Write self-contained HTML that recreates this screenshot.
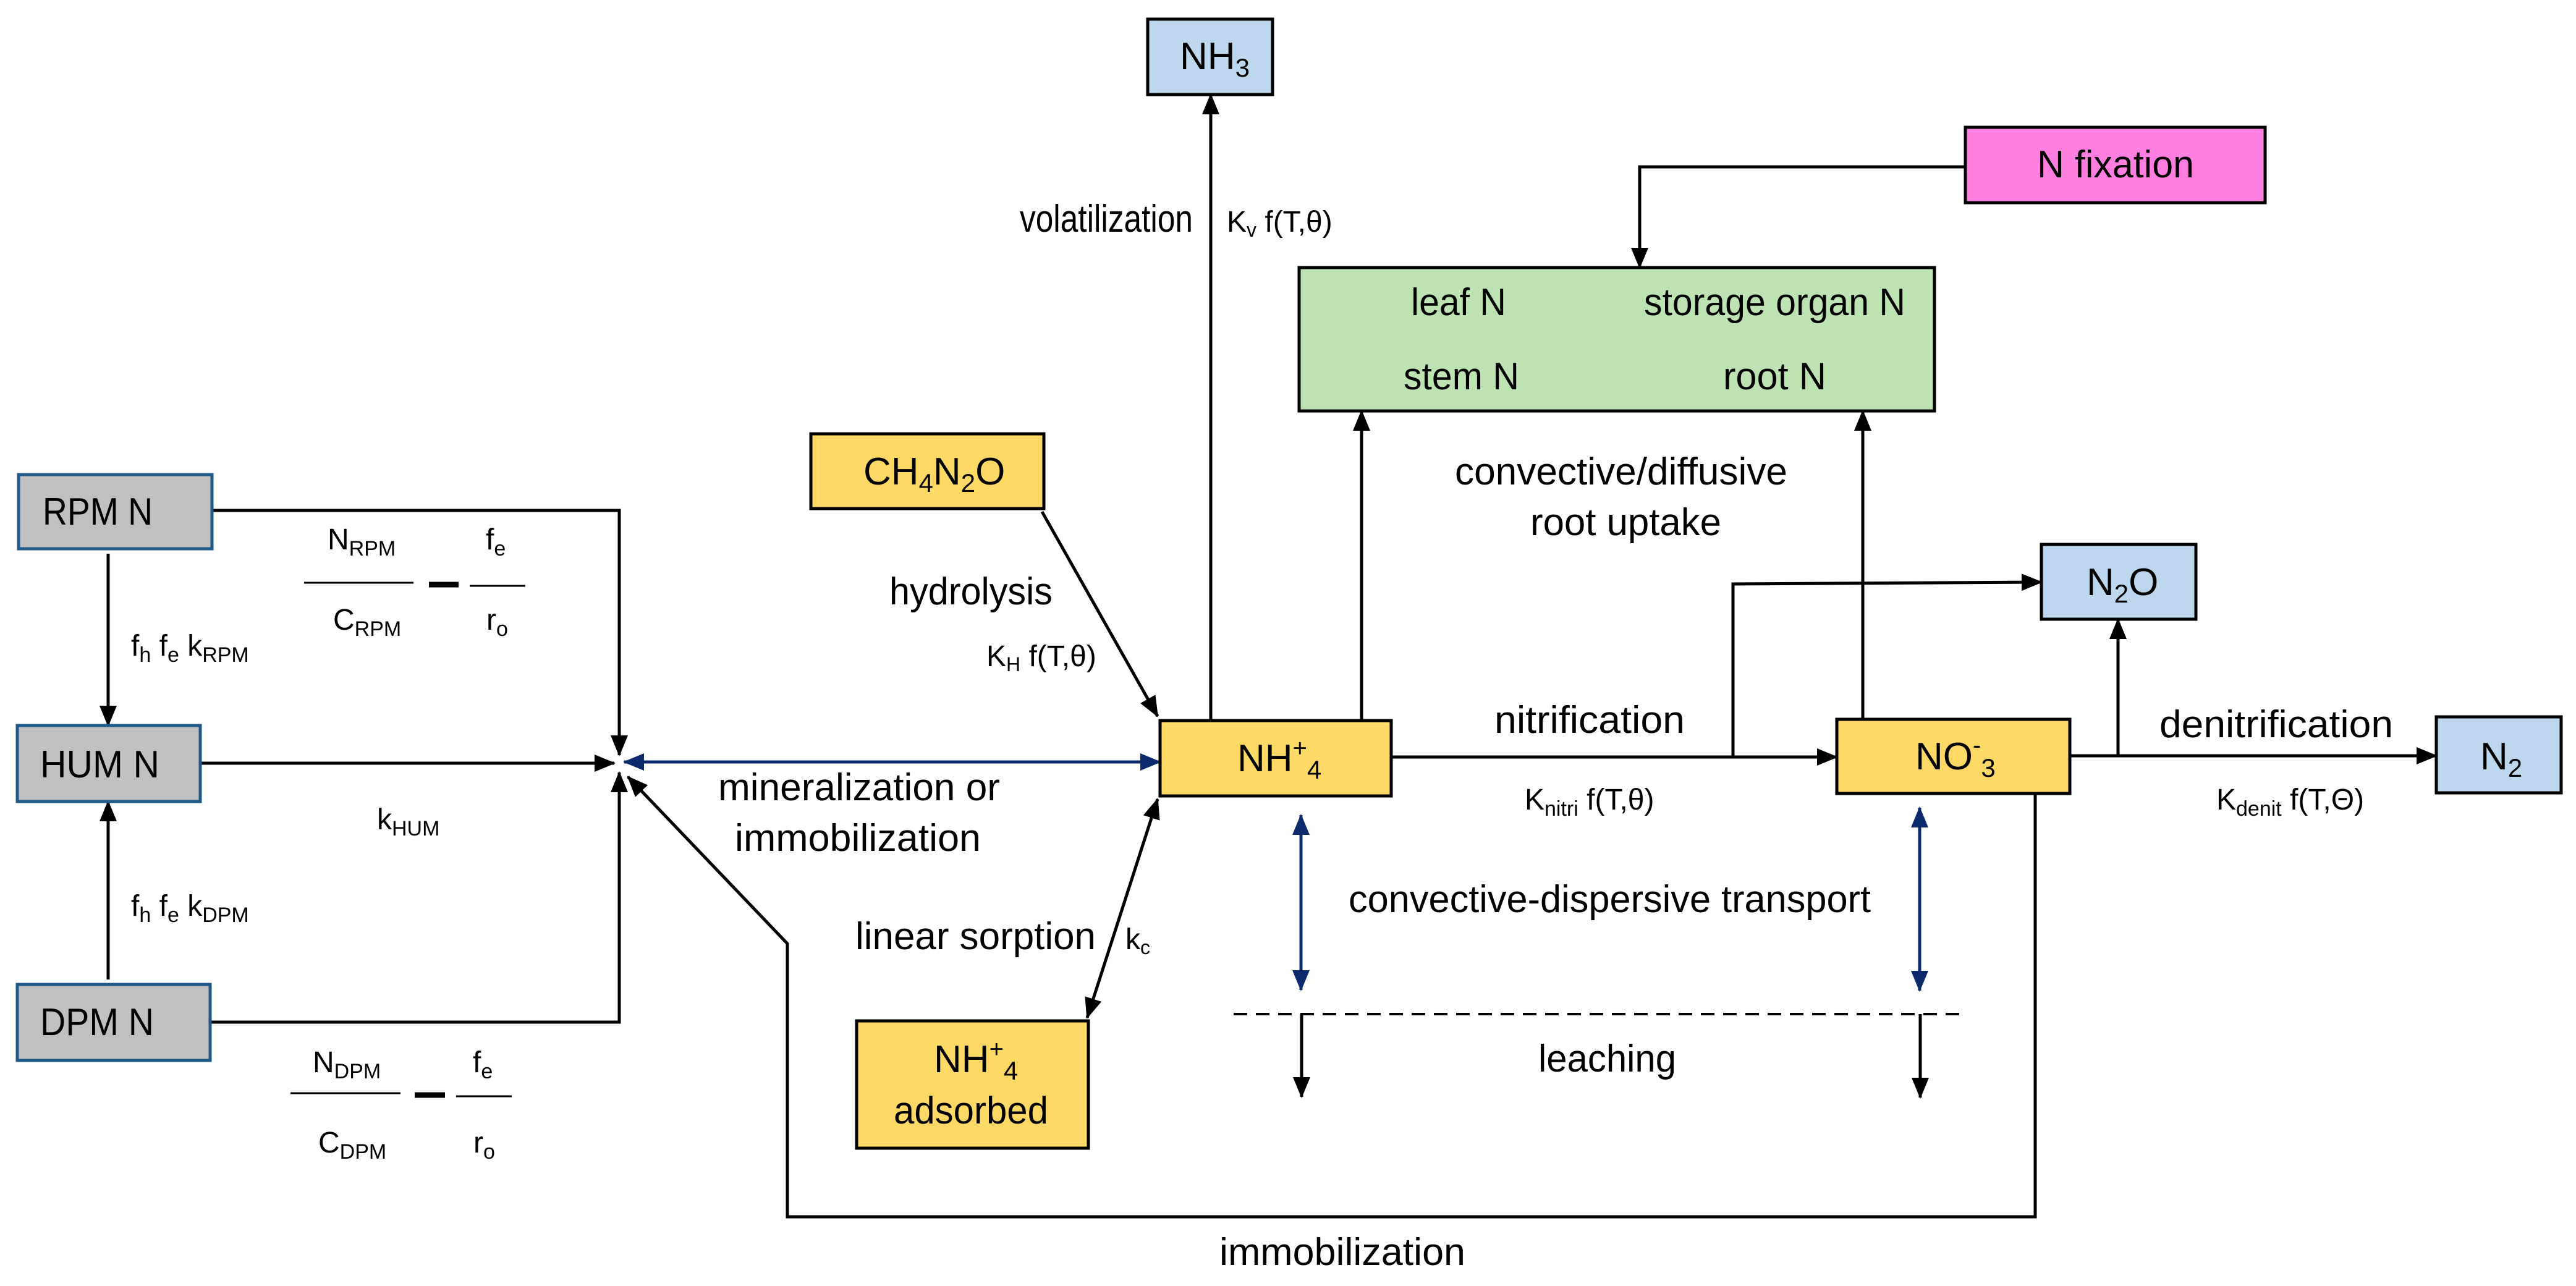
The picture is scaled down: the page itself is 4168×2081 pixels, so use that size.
<!DOCTYPE html>
<html><head><meta charset="utf-8"><style>html,body{margin:0;padding:0;background:#fff}svg{display:block}text{font-family:"Liberation Sans",sans-serif;fill:#000}</style></head>
<body>
<svg width="4168" height="2081" viewBox="0 0 4168 2081" xmlns="http://www.w3.org/2000/svg">
<defs>
<marker id="a" markerUnits="userSpaceOnUse" markerWidth="34" markerHeight="28" refX="32" refY="14" orient="auto-start-reverse"><path d="M0,0 L34,14 L0,28 Z" fill="#000"/></marker>
<marker id="b" markerUnits="userSpaceOnUse" markerWidth="34" markerHeight="28" refX="32" refY="14" orient="auto-start-reverse"><path d="M0,0 L34,14 L0,28 Z" fill="#0b2a6b"/></marker>
</defs>
<g stroke="#000" stroke-width="5" fill="none">
<!-- left -->
<polyline points="343,826 1002,826 1002,1222" marker-end="url(#a)"/>
<polyline points="340,1654 1002,1654 1002,1250" marker-end="url(#a)"/>
<line x1="324" y1="1235" x2="994" y2="1235" marker-end="url(#a)"/>
<line x1="175" y1="896" x2="175" y2="1174" marker-end="url(#a)"/>
<line x1="175" y1="1585" x2="175" y2="1297" marker-end="url(#a)"/>
<!-- immobilization -->
<polyline points="3293,1284 3293,1969 1274,1969 1274,1527 1016,1257" marker-end="url(#a)"/>
<!-- hydrolysis -->
<line x1="1686" y1="828" x2="1873" y2="1159" marker-end="url(#a)"/>
<!-- sorption -->
<line x1="1759" y1="1647" x2="1873" y2="1293" marker-start="url(#a)" marker-end="url(#a)"/>
<!-- volatilization -->
<line x1="1959" y1="1166" x2="1959" y2="153" marker-end="url(#a)"/>
<line x1="2203" y1="1166" x2="2203" y2="665" marker-end="url(#a)"/>
<line x1="3014" y1="1164" x2="3014" y2="665" marker-end="url(#a)"/>
<line x1="2251" y1="1225" x2="2972" y2="1225" marker-end="url(#a)"/>
<polyline points="2804,1225 2804,945 3303,942" marker-end="url(#a)"/>
<line x1="3427" y1="1223" x2="3427" y2="1002" marker-end="url(#a)"/>
<line x1="3349" y1="1223" x2="3942" y2="1223" marker-end="url(#a)"/>
<polyline points="3180,270 2653,270 2653,433" marker-end="url(#a)"/>
<line x1="1996" y1="1641" x2="3179" y2="1641" stroke-dasharray="22 14" stroke-width="4"/>
<line x1="2106" y1="1641" x2="2106" y2="1775" marker-end="url(#a)"/>
<line x1="3107" y1="1641" x2="3107" y2="1776" marker-end="url(#a)"/>
<!-- fraction bars -->
<line x1="492" y1="943" x2="669" y2="943" stroke-width="3"/>
<line x1="694" y1="946" x2="742" y2="946" stroke-width="9"/>
<line x1="760" y1="948" x2="850" y2="948" stroke-width="3"/>
<line x1="470" y1="1769" x2="648" y2="1769" stroke-width="3"/>
<line x1="671" y1="1772" x2="720" y2="1772" stroke-width="9"/>
<line x1="738" y1="1774" x2="828" y2="1774" stroke-width="3"/>
</g>
<g stroke="#0b2a6b" stroke-width="5" fill="none">
<line x1="1010" y1="1233" x2="1877" y2="1233" marker-start="url(#b)" marker-end="url(#b)"/>
<line x1="2105" y1="1319" x2="2105" y2="1602" marker-start="url(#b)" marker-end="url(#b)"/>
<line x1="3106" y1="1307" x2="3106" y2="1603" marker-start="url(#b)" marker-end="url(#b)"/>
</g>
<!-- boxes -->
<g stroke-width="5">
<rect x="30" y="768" width="313" height="120" fill="#c0c0c0" stroke="#1f5a8a"/>
<rect x="28" y="1174" width="296" height="123" fill="#c0c0c0" stroke="#1f5a8a"/>
<rect x="28" y="1593" width="312" height="123" fill="#c0c0c0" stroke="#1f5a8a"/>
<rect x="1857" y="31" width="202" height="122" fill="#bdd7ee" stroke="#000"/>
<rect x="2102" y="433" width="1028" height="232" fill="#bde3b3" stroke="#000"/>
<rect x="3180" y="206" width="485" height="122" fill="#ff7fe0" stroke="#000"/>
<rect x="1312" y="702" width="377" height="121" fill="#ffd966" stroke="#000"/>
<rect x="1877" y="1166" width="374" height="122" fill="#ffd966" stroke="#000"/>
<rect x="2972" y="1164" width="377" height="120" fill="#ffd966" stroke="#000"/>
<rect x="1386" y="1652" width="375" height="206" fill="#ffd966" stroke="#000"/>
<rect x="3303" y="881" width="250" height="121" fill="#bdd7ee" stroke="#000"/>
<rect x="3942" y="1160" width="202" height="123" fill="#bdd7ee" stroke="#000"/>
</g>
<!-- texts -->
<g font-size="62">
<text x="69" y="849" textLength="178" lengthAdjust="spacingAndGlyphs">RPM N</text>
<text x="65" y="1258" textLength="193" lengthAdjust="spacingAndGlyphs">HUM N</text>
<text x="65" y="1675" textLength="184" lengthAdjust="spacingAndGlyphs">DPM N</text>
<text x="1909" y="112">NH<tspan font-size="42" dy="12">3</tspan></text>
<text x="2283" y="510" textLength="154" lengthAdjust="spacingAndGlyphs">leaf N</text>
<text x="2660" y="510" textLength="423" lengthAdjust="spacingAndGlyphs">storage organ N</text>
<text x="2271" y="630" textLength="187" lengthAdjust="spacingAndGlyphs">stem N</text>
<text x="2788" y="630" textLength="167" lengthAdjust="spacingAndGlyphs">root N</text>
<text x="3296" y="287" textLength="254" lengthAdjust="spacingAndGlyphs">N fixation</text>
<text x="2354" y="784" textLength="538" lengthAdjust="spacingAndGlyphs">convective/diffusive</text>
<text x="2476" y="866" textLength="309" lengthAdjust="spacingAndGlyphs">root uptake</text>
<text x="1650" y="375" textLength="280" lengthAdjust="spacingAndGlyphs">volatilization</text>
<text x="3376" y="963">N<tspan font-size="42" dy="12">2</tspan><tspan dy="-12">O</tspan></text>
<text x="3099" y="1245">NO<tspan font-size="40" dy="-26">-</tspan><tspan font-size="42" dy="38">3</tspan></text>
<text x="4013" y="1245">N<tspan font-size="42" dy="12">2</tspan></text>
<text x="3494" y="1193" textLength="378" lengthAdjust="spacingAndGlyphs">denitrification</text>
<text x="1397" y="784">CH<tspan font-size="42" dy="12">4</tspan><tspan dy="-12">N</tspan><tspan font-size="42" dy="12">2</tspan><tspan dy="-12">O</tspan></text>
<text x="1439" y="978" textLength="264" lengthAdjust="spacingAndGlyphs">hydrolysis</text>
<text x="2002" y="1248">NH<tspan font-size="40" dy="-24">+</tspan><tspan font-size="42" dy="36">4</tspan></text>
<text x="1162" y="1295" textLength="456" lengthAdjust="spacingAndGlyphs">mineralization or</text>
<text x="1189" y="1377" textLength="398" lengthAdjust="spacingAndGlyphs">immobilization</text>
<text x="1384" y="1536" textLength="389" lengthAdjust="spacingAndGlyphs">linear sorption</text>
<text x="1511" y="1735">NH<tspan font-size="40" dy="-24">+</tspan><tspan font-size="42" dy="36">4</tspan></text>
<text x="1446" y="1818" textLength="250" lengthAdjust="spacingAndGlyphs">adsorbed</text>
<text x="1973" y="2047" textLength="398" lengthAdjust="spacingAndGlyphs">immobilization</text>
<text x="2418" y="1186" textLength="308" lengthAdjust="spacingAndGlyphs">nitrification</text>
<text x="2182" y="1476" textLength="845" lengthAdjust="spacingAndGlyphs">convective-dispersive transport</text>
<text x="2489" y="1734" textLength="223" lengthAdjust="spacingAndGlyphs">leaching</text>
</g>
<g font-size="48">
<text x="1985" y="375">K<tspan font-size="32" dy="8">v</tspan><tspan dy="-8"> f(T,θ)</tspan></text>
<text x="3586" y="1310">K<tspan font-size="34" dy="10">denit</tspan><tspan dy="-10"> f(T,Θ)</tspan></text>
<text x="1596" y="1078">K<tspan font-size="32" dy="8">H</tspan><tspan dy="-8"> f(T,θ)</tspan></text>
<text x="1821" y="1536">k<tspan font-size="32" dy="8">c</tspan></text>
<text x="2467" y="1310">K<tspan font-size="34" dy="10">nitri</tspan><tspan dy="-10"> f(T,θ)</tspan></text>
<text x="212" y="1061">f<tspan font-size="34" dy="10">h</tspan><tspan dy="-10"> f</tspan><tspan font-size="34" dy="10">e</tspan><tspan dy="-10"> k</tspan><tspan font-size="34" dy="10">RPM</tspan></text>
<text x="212" y="1482">f<tspan font-size="34" dy="10">h</tspan><tspan dy="-10"> f</tspan><tspan font-size="34" dy="10">e</tspan><tspan dy="-10"> k</tspan><tspan font-size="34" dy="10">DPM</tspan></text>
<text x="610" y="1342">k<tspan font-size="34" dy="10">HUM</tspan></text>
<text x="530" y="889">N<tspan font-size="34" dy="10">RPM</tspan></text>
<text x="786" y="889">f<tspan font-size="34" dy="10">e</tspan></text>
<text x="539" y="1019">C<tspan font-size="34" dy="10">RPM</tspan></text>
<text x="787" y="1019">r<tspan font-size="34" dy="10">o</tspan></text>
<text x="506" y="1735">N<tspan font-size="34" dy="10">DPM</tspan></text>
<text x="765" y="1735">f<tspan font-size="34" dy="10">e</tspan></text>
<text x="515" y="1865">C<tspan font-size="34" dy="10">DPM</tspan></text>
<text x="766" y="1865">r<tspan font-size="34" dy="10">o</tspan></text>
</g>
</svg>
</body></html>
